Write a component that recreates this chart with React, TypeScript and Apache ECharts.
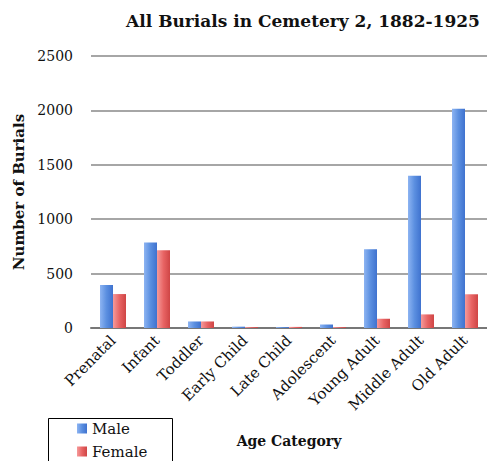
import React, { useEffect, useRef } from "react";
import * as echarts from "echarts";

const categories = ["Prenatal", "Infant", "Toddler", "Early Child", "Late Child", "Adolescent", "Young Adult", "Middle Adult", "Old Adult"];
const maleValues = [395, 785, 60, 12, 8, 32, 723, 1400, 2015];
const femaleValues = [312, 714, 60, 8, 10, 8, 85, 125, 310];
const yTicks = { min: 0, max: 2500, interval: 500 };

const FONT = "'DejaVu Serif', 'Liberation Serif', serif";

export default function App() {
  const ref = useRef<HTMLDivElement>(null);
  useEffect(() => {
    if (!ref.current) return;
    const chart = echarts.init(ref.current, undefined, { renderer: "svg" });
    const maleGrad = new echarts.graphic.LinearGradient(0, 0, 1, 0, [
      { offset: 0, color: "#8db4f2" },
      { offset: 0.5, color: "#5b8fe0" },
      { offset: 1, color: "#3f72cf" },
    ]);
    const femaleGrad = new echarts.graphic.LinearGradient(0, 0, 1, 0, [
      { offset: 0, color: "#f59a9a" },
      { offset: 0.5, color: "#e86464" },
      { offset: 1, color: "#cf4545" },
    ]);
    const legendText = { fontFamily: FONT, fontSize: 15, color: "#111" };
    chart.setOption({
      animation: false,
      textStyle: { fontFamily: FONT },
      title: {
        text: "All Burials in Cemetery 2, 1882-1925",
        left: 298,
        textAlign: "center",
        top: 7,
        textStyle: { fontFamily: FONT, fontSize: 17, fontWeight: "bold", color: "#111" },
      },
      grid: { left: 91, right: 0, top: 56, bottom: 133, containLabel: false },
      xAxis: {
        type: "category",
        data: categories,
        name: "Age Category",
        nameLocation: "middle",
        nameGap: 106,
        nameTextStyle: { fontFamily: FONT, fontSize: 14, fontWeight: "bold", color: "#111" },
        axisLine: { lineStyle: { color: "#777", width: 2 } },
        axisTick: { show: false },
        axisLabel: { rotate: 45, fontFamily: FONT, fontSize: 15, color: "#111", margin: 10, interval: 0 },
      },
      yAxis: {
        type: "value",
        min: yTicks.min,
        max: yTicks.max,
        interval: yTicks.interval,
        name: "Number of Burials",
        nameLocation: "middle",
        nameGap: 63,
        nameTextStyle: { fontFamily: FONT, fontSize: 15, fontWeight: "bold", color: "#111" },
        axisLine: { show: false },
        axisTick: { show: false },
        axisLabel: { fontFamily: FONT, fontSize: 14, color: "#111", margin: 18, formatter: (v: number) => String(v) },
        splitLine: { lineStyle: { color: "#888", width: 1.5 } },
      },
      legend: [
        {
          left: 72,
          top: 416,
          itemWidth: 10,
          itemHeight: 10,
          icon: "rect",
          textStyle: legendText,
          data: ["Male"],
        },
        {
          left: 72,
          top: 439,
          itemWidth: 10,
          itemHeight: 10,
          icon: "rect",
          textStyle: legendText,
          data: ["Female"],
        },
      ],
      graphic: [
        {
          type: "rect",
          left: 46,
          top: 416,
          shape: { width: 124, height: 60 },
          style: { fill: "none", stroke: "#000", lineWidth: 1 },
          silent: true,
        },
      ],
      series: [
        {
          name: "Male",
          type: "bar",
          data: maleValues,
          barWidth: 13,
          barGap: "0%",
          itemStyle: { color: maleGrad },
        },
        {
          name: "Female",
          type: "bar",
          data: femaleValues,
          barWidth: 13,
          itemStyle: { color: femaleGrad },
        },
      ],
    });
    return () => chart.dispose();
  }, []);
  return <div ref={ref} style={{ width: 487, height: 461, position: "absolute", left: 0, top: 0 }} />;
}
